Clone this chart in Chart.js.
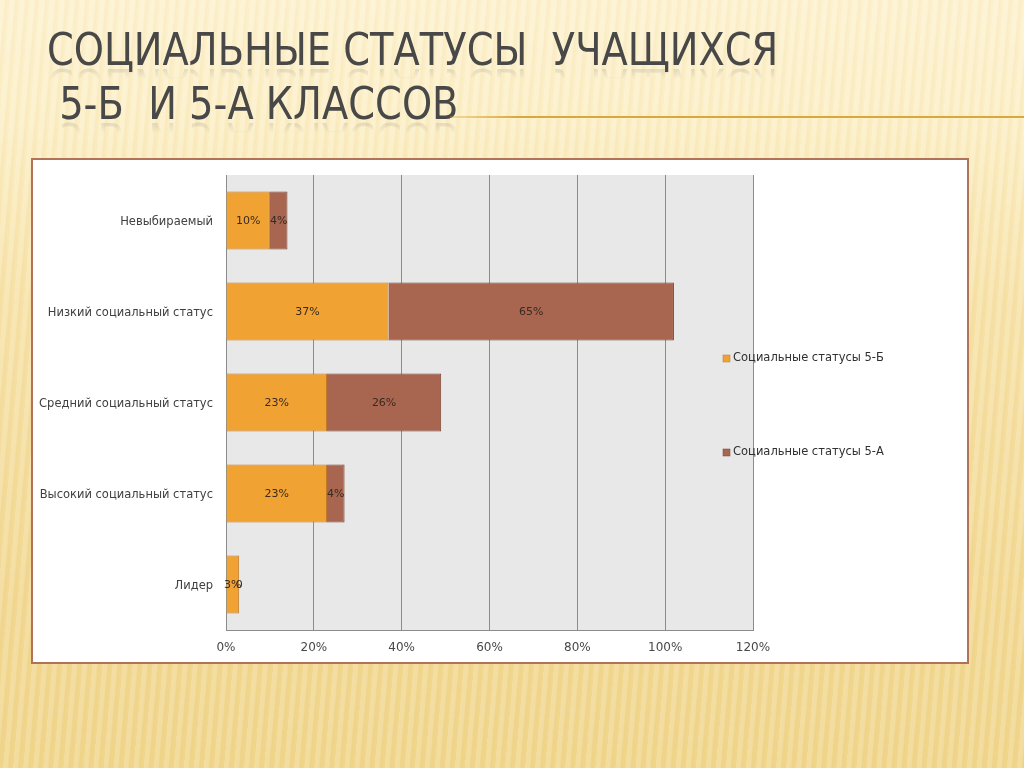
<!DOCTYPE html>
<html>
<head>
<meta charset="utf-8">
<script src="https://cdn.jsdelivr.net/npm/chart.js@4.4.1/dist/chart.umd.min.js"></script>
<style>
  html, body { margin: 0; padding: 0; }
  body {
    width: 1024px; height: 768px; overflow: hidden; position: relative;
    background:
      repeating-linear-gradient(95deg, rgba(255,255,255,0.16) 0px, rgba(255,255,255,0.16) 4px, rgba(200,160,60,0.06) 6px, rgba(255,255,255,0) 10px),
      linear-gradient(180deg, #fdf2d0 0px, #fcefc6 120px, #f7e2a8 300px, #f2d892 600px, #f0d68c 768px);
  }
  .title {
    position: absolute; font-family: "DejaVu Sans Condensed", "DejaVu Sans", sans-serif;
    font-size: 44px; color: #484848; white-space: pre; line-height: 48px;
    transform-origin: left top; transform: scaleX(0.97);
    -webkit-box-reflect: below -14px linear-gradient(transparent 60%, rgba(255,255,255,0.25));
  }
  #t1 { left: 47px; top: 26px; }
  #t2 { left: 47px; top: 80px; }
  #rule {
    position: absolute; left: 450px; top: 116px; width: 574px; height: 2px;
    background: linear-gradient(90deg, rgba(216,168,64,0.3), #d8a840 12%, #d8a840);
    box-shadow: 0 1px 0 rgba(255,240,200,0.9);
  }
  #box {
    position: absolute; left: 31px; top: 158px; width: 934px; height: 502px;
    border: 2px solid #b07258; background: #ffffff;
  }
  canvas { display: block; }
</style>
</head>
<body>
<div class="title" id="t1">СОЦИАЛЬНЫЕ СТАТУСЫ  УЧАЩИХСЯ</div>
<div class="title" id="t2"> 5-Б  И 5-А КЛАССОВ</div>
<div id="rule"></div>
<div id="box"><canvas id="chart" width="934" height="502"></canvas></div>
<script>
// categories and values (percent)
const categories = ["Невыбираемый", "Низкий социальный статус", "Средний социальный статус", "Высокий социальный статус", "Лидер"];
const status5B = [10, 37, 23, 23, 3];
const status5A = [4, 65, 26, 4, 0];
const seriesNames = ["Социальные статусы 5-Б", "Социальные статусы 5-А"];
const xTicks = [0, 20, 40, 60, 80, 100, 120];

const font = "DejaVu Sans";

// grey plot background
const plotBg = {
  id: "plotBg",
  beforeDraw(chart) {
    const a = chart.chartArea, ctx = chart.ctx;
    ctx.save();
    ctx.fillStyle = "#e8e8e8";
    ctx.fillRect(a.left, a.top, a.right - a.left, a.bottom - a.top);
    ctx.restore();
  }
};

// value labels in the middle of each bar
const barLabels = {
  id: "barLabels",
  afterDatasetsDraw(chart) {
    const ctx = chart.ctx;
    ctx.save();
    ctx.font = "11px " + font;
    ctx.fillStyle = "#3a2a20";
    ctx.textAlign = "center";
    ctx.textBaseline = "middle";
    chart.data.datasets.forEach((ds, i) => {
      chart.getDatasetMeta(i).data.forEach((bar, j) => {
        const v = ds.data[j];
        const p = bar.getProps(["x", "y", "base"], true);
        ctx.fillText(v === 0 ? "0" : v + "%", (p.x + p.base) / 2, p.y + 1);
      });
    });
    ctx.restore();
  }
};

// legend sitting over the right edge of the plot
const sideLegend = {
  id: "sideLegend",
  afterDraw(chart) {
    const ctx = chart.ctx, a = chart.chartArea;
    const cy = (a.top + a.bottom) / 2;
    const ys = [cy - 44, cy + 50];
    ctx.save();
    ctx.font = "11.5px " + font;
    ctx.textBaseline = "middle";
    chart.data.datasets.forEach((ds, i) => {
      const x = a.right - 30, y = ys[i];
      ctx.fillStyle = ds.backgroundColor;
      ctx.fillRect(x, y - 3.5, 7, 7);
      ctx.strokeStyle = ds.borderColor;
      ctx.lineWidth = 0.5;
      ctx.strokeRect(x, y - 3.5, 7, 7);
      ctx.fillStyle = "#303030";
      ctx.fillText(ds.label, x + 10, y);
    });
    ctx.restore();
  }
};

new Chart(document.getElementById("chart"), {
  type: "bar",
  data: {
    labels: categories,
    datasets: [
      { label: seriesNames[0], data: status5B, backgroundColor: "#f0a232", borderColor: "#c07a28", borderWidth: 1 },
      { label: seriesNames[1], data: status5A, backgroundColor: "#a86550", borderColor: "#7a4535", borderWidth: 1 }
    ]
  },
  options: {
    indexAxis: "y",
    responsive: false,
    animation: false,
    layout: { padding: { left: 0, right: 214, top: 15, bottom: 0 } },
    datasets: { bar: { categoryPercentage: 1, barPercentage: 0.64 } },
    plugins: { legend: { display: false }, tooltip: { enabled: false } },
    scales: {
      x: {
        stacked: true, min: 0, max: 120,
        afterBuildTicks(scale) { scale.ticks = xTicks.map(v => ({ value: v })); },
        afterFit(scale) { scale.height = 32; scale.paddingTop = 0; scale.paddingBottom = 0; },
        grid: { color: "#8c8c8c", lineWidth: 1, drawTicks: false },
        border: { color: "#8c8c8c" },
        ticks: { padding: 11, color: "#484848", font: { family: font, size: 12 }, callback: v => v + "%" }
      },
      y: {
        stacked: true,
        afterFit(scale) { scale.width = 193; scale.paddingTop = 0; scale.paddingBottom = 0; },
        grid: { display: false, drawTicks: false },
        border: { color: "#8c8c8c" },
        ticks: { padding: 13, labelOffset: 2, color: "#404040", font: { family: font, size: 11.5 } }
      }
    }
  },
  plugins: [plotBg, barLabels, sideLegend]
});
</script>
</body>
</html>
